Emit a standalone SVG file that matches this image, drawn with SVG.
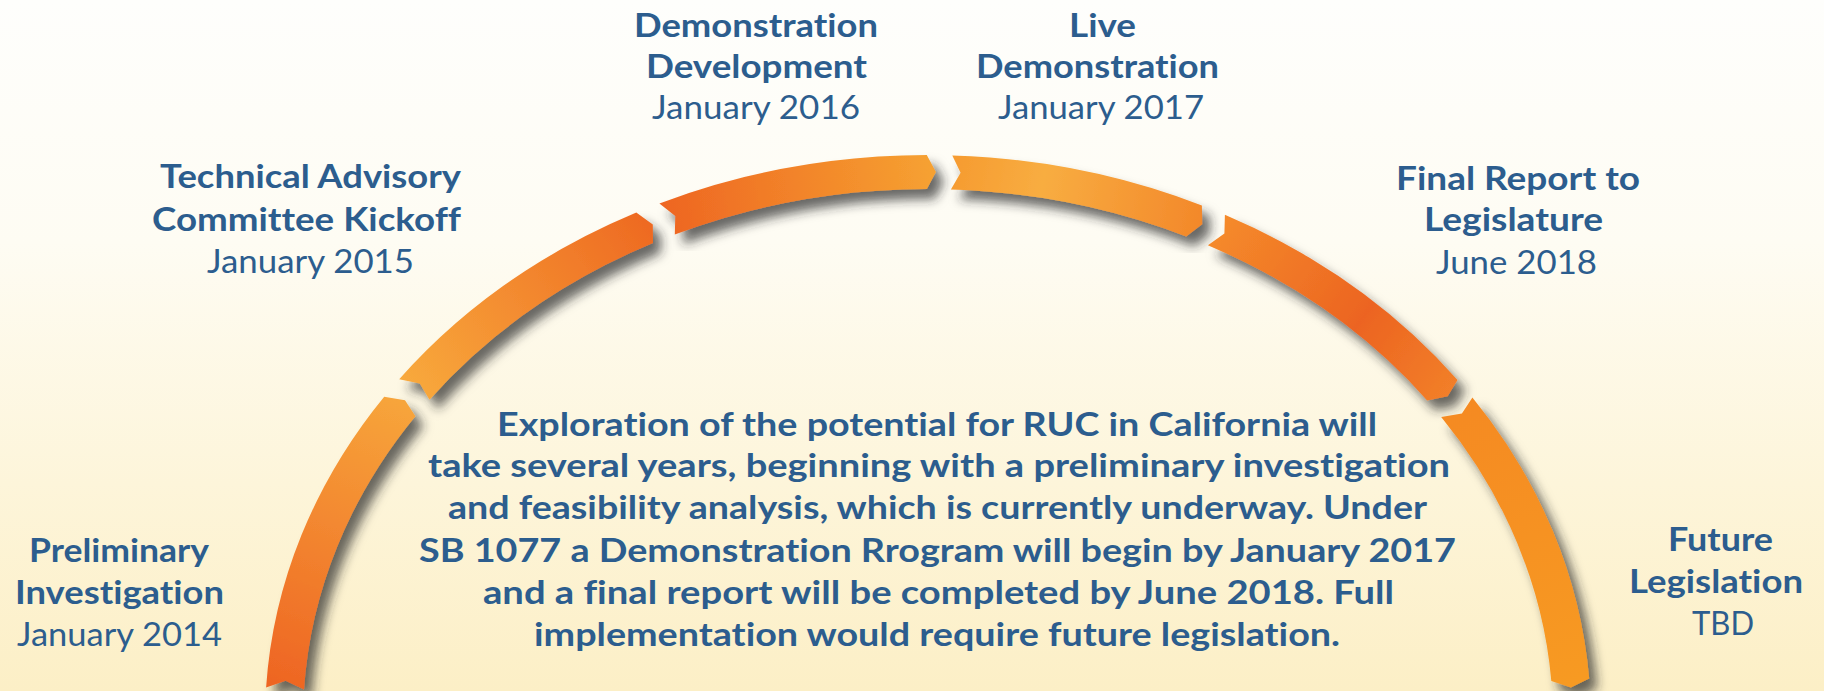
<svg xmlns="http://www.w3.org/2000/svg" width="1824" height="691" viewBox="0 0 1824 691">
  <defs>
    <linearGradient id="bg" x1="0" y1="0" x2="0" y2="1">
      <stop offset="0" stop-color="#FEFEFC"/>
      <stop offset="0.35" stop-color="#FEFCF3"/>
      <stop offset="0.7" stop-color="#FDF5DA"/>
      <stop offset="1" stop-color="#FCEFC6"/>
    </linearGradient>
    <filter id="shadow" x="-20%" y="-20%" width="140%" height="140%">
      <feGaussianBlur in="SourceAlpha" stdDeviation="5.5"/>
      <feOffset dx="8" dy="10" result="b"/>
      <feFlood flood-color="#262626" flood-opacity="0.68"/>
      <feComposite in2="b" operator="in"/>
      <feMerge>
        <feMergeNode/>
        <feMergeNode in="SourceGraphic"/>
      </feMerge>
    </filter>
    <linearGradient id="g1" gradientUnits="userSpaceOnUse" x1="285" y1="688" x2="400" y2="400">
      <stop offset="0" stop-color="#EE6523"/>
      <stop offset="1" stop-color="#F7A53B"/>
    </linearGradient>
    <linearGradient id="g2" gradientUnits="userSpaceOnUse" x1="410" y1="390" x2="650" y2="225">
      <stop offset="0" stop-color="#F8A93C"/>
      <stop offset="1" stop-color="#EE6A22"/>
    </linearGradient>
    <linearGradient id="g3" gradientUnits="userSpaceOnUse" x1="665" y1="215" x2="932" y2="172">
      <stop offset="0" stop-color="#EE6622"/>
      <stop offset="1" stop-color="#F6A131"/>
    </linearGradient>
    <linearGradient id="g4" gradientUnits="userSpaceOnUse" x1="955" y1="172" x2="1202" y2="222">
      <stop offset="0" stop-color="#F69C31"/>
      <stop offset="0.35" stop-color="#F8AD41"/>
      <stop offset="1" stop-color="#F3882A"/>
    </linearGradient>
    <linearGradient id="g5" gradientUnits="userSpaceOnUse" x1="1215" y1="225" x2="1450" y2="395">
      <stop offset="0" stop-color="#F58B2B"/>
      <stop offset="0.6" stop-color="#EC6421"/>
      <stop offset="1" stop-color="#F27F29"/>
    </linearGradient>
    <linearGradient id="g6" gradientUnits="userSpaceOnUse" x1="1455" y1="405" x2="1570" y2="685">
      <stop offset="0" stop-color="#F58A22"/>
      <stop offset="1" stop-color="#F79A24"/>
    </linearGradient>
  </defs>
  <style>
    .b { font-family: Lato, "Liberation Sans", sans-serif; font-weight: 700; font-size: 33px; fill: #2C5D8E; font-variant-ligatures: none; font-feature-settings: "liga" 0, "dlig" 0; }
    .r { font-family: Lato, "Liberation Sans", sans-serif; font-weight: 400; font-size: 33px; fill: #2C5D8E; font-variant-ligatures: none; }
    .seg { filter: url(#shadow); }
  </style>

  <rect x="0" y="0" width="1824" height="691" fill="url(#bg)"/>

  <g id="connectors">
    <path id="seg1" class="seg" fill="url(#g1)" d="M 266.1 687.5 A 663 565 0 0 1 384.2 396.7 L 405.0 400.2 L 415.4 416.2 A 625 531 0 0 0 304.0 689.4 L 285.6 680.8 Z"/>
    <path id="seg2" class="seg" fill="url(#g2)" d="M 399.2 379.2 A 663 565 0 0 1 636.3 212.6 L 652.8 224.6 L 653.0 243.1 A 625 531 0 0 0 429.5 399.7 L 419.8 383.4 Z"/>
    <path id="seg3" class="seg" fill="url(#g3)" d="M 659.4 203.5 A 663 565 0 0 1 926.8 155 L 935.9 172.0 L 926.9 189 A 625 531 0 0 0 674.8 234.5 L 675.3 215.9 Z"/>
    <path id="seg4" class="seg" fill="url(#g4)" d="M 952.3 155.4 A 663 565 0 0 1 1201.9 205.5 L 1202.2 224.2 L 1186.2 236.4 A 625 531 0 0 0 950.9 189.4 L 960.6 172.7 Z"/>
    <path id="seg5" class="seg" fill="url(#g5)" d="M 1224.9 214.8 A 663 565 0 0 1 1457.5 380.0 L 1447.7 396.3 L 1427.2 400.4 A 625 531 0 0 0 1207.9 245.2 L 1224.4 233.5 Z"/>
    <path id="seg6" class="seg" fill="url(#g6)" d="M 1472.4 397.5 A 663 565 0 0 1 1589.2 678.6 L 1570.9 687.5 L 1551.3 681.1 A 625 531 0 0 0 1441.2 417.0 L 1461.9 413.6 Z"/>
  </g>

  <g id="node-preliminary">
    <text class="b" x="29" y="562" textLength="180" lengthAdjust="spacingAndGlyphs">Preliminary</text>
    <text class="b" x="15" y="604" textLength="209" lengthAdjust="spacingAndGlyphs">Investigation</text>
    <text class="r" x="17" y="646" textLength="205" lengthAdjust="spacingAndGlyphs">January 2014</text>
  </g>

  <g id="node-technical">
    <text class="b" x="160" y="188" textLength="301" lengthAdjust="spacingAndGlyphs">Technical Advisory</text>
    <text class="b" x="152" y="231" textLength="309" lengthAdjust="spacingAndGlyphs">Committee Kickoff</text>
    <text class="r" x="207" y="273" textLength="207" lengthAdjust="spacingAndGlyphs">January 2015</text>
  </g>

  <g id="node-demo-dev">
    <text class="b" x="634" y="37" textLength="244" lengthAdjust="spacingAndGlyphs">Demonstration</text>
    <text class="b" x="646" y="78" textLength="221" lengthAdjust="spacingAndGlyphs">Development</text>
    <text class="r" x="652" y="119" textLength="208" lengthAdjust="spacingAndGlyphs">January 2016</text>
  </g>

  <g id="node-live-demo">
    <text class="b" x="1069" y="37" textLength="67" lengthAdjust="spacingAndGlyphs">Live</text>
    <text class="b" x="976" y="78" textLength="243" lengthAdjust="spacingAndGlyphs">Demonstration</text>
    <text class="r" x="998" y="119" textLength="206" lengthAdjust="spacingAndGlyphs">January 2017</text>
  </g>

  <g id="node-final-report">
    <text class="b" x="1396" y="190" textLength="244" lengthAdjust="spacingAndGlyphs">Final Report to</text>
    <text class="b" x="1424" y="231" textLength="179" lengthAdjust="spacingAndGlyphs">Legislature</text>
    <text class="r" x="1436" y="274" textLength="161" lengthAdjust="spacingAndGlyphs">June 2018</text>
  </g>

  <g id="node-future">
    <text class="b" x="1668" y="551" textLength="105" lengthAdjust="spacingAndGlyphs">Future</text>
    <text class="b" x="1629" y="593" textLength="174" lengthAdjust="spacingAndGlyphs">Legislation</text>
    <text class="r" x="1692" y="635" textLength="62" lengthAdjust="spacingAndGlyphs">TBD</text>
  </g>

  <g id="description">
    <text class="b" x="497" y="436" textLength="880" lengthAdjust="spacingAndGlyphs">Exploration of the potential for RUC in California will</text>
    <text class="b" x="428" y="477" textLength="1022" lengthAdjust="spacingAndGlyphs">take several years, beginning with a preliminary investigation</text>
    <text class="b" x="448" y="519" textLength="979" lengthAdjust="spacingAndGlyphs">and feasibility analysis, which is currently underway. Under</text>
    <text class="b" x="419" y="562" textLength="1037" lengthAdjust="spacingAndGlyphs">SB 1077 a Demonstration Rrogram will begin by January 2017</text>
    <text class="b" x="483" y="604" textLength="911" lengthAdjust="spacingAndGlyphs">and a final report will be completed by June 2018. Full</text>
    <text class="b" x="534" y="646" textLength="806" lengthAdjust="spacingAndGlyphs">implementation would require future legislation.</text>
  </g>
</svg>
